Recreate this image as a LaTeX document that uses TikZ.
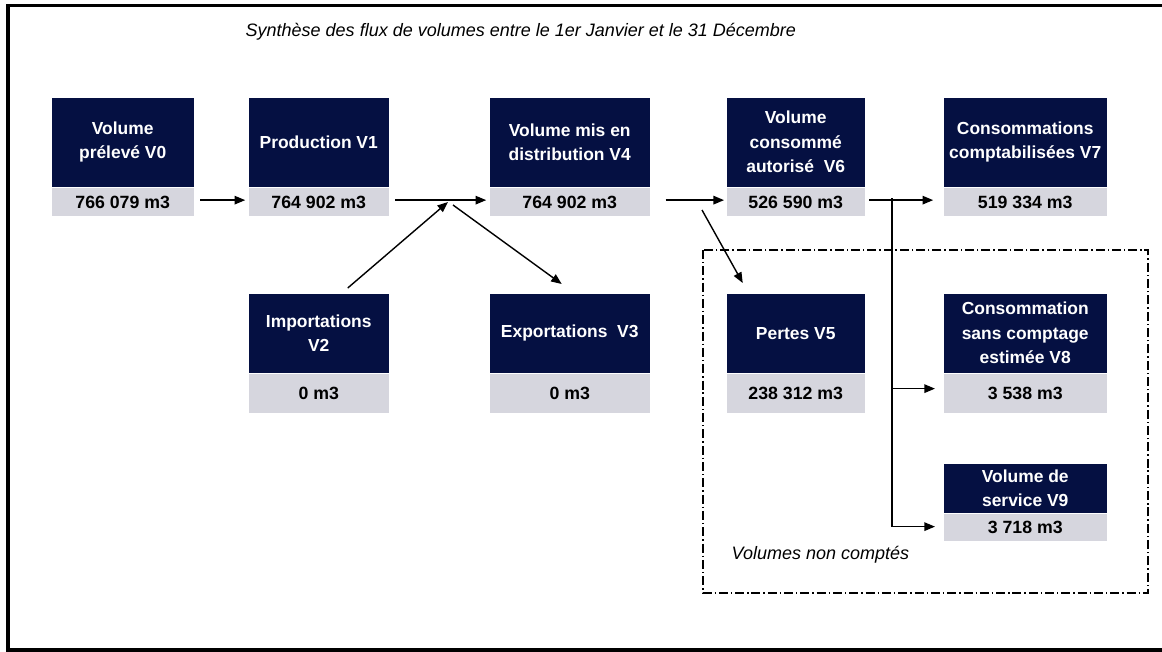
\documentclass[tikz,border=0pt]{standalone}
\usepackage{fontspec}
\setmainfont{Liberation Sans}
\usepackage{xcolor}
\usepackage{tikz}
\usetikzlibrary{arrows.meta,calc}
\definecolor{navy}{RGB}{5,16,66}
\definecolor{lightgrey}{RGB}{214,214,222}
\tikzset{
	lbl/.style={fill=navy, text=white, font=\bfseries\fontsize{12.4}{17.4}\selectfont, align=center, inner sep=0pt, anchor=north west},
	val/.style={fill=lightgrey, text=black, font=\bfseries\fontsize{12.6}{15}\selectfont, inner sep=0pt, anchor=north west},
	note/.style={font=\itshape\fontsize{12.8}{15}\selectfont, inner sep=0pt, anchor=west}
}

\begin{document}
\begin{tikzpicture}[x=0.025cm, y=-0.025cm, line width=1pt, >={Triangle[length=7.5pt,width=6pt]}]
	\useasboundingbox (0,0) rectangle (1162,651);
	\draw[line width=2.7pt] (8,5.5) rectangle (1185,650);
	\node[note] (titre) at (245,32) {Synthèse des flux de volumes entre le 1er Janvier et le 31 Décembre};

	\node[lbl, minimum width=3.55cm, minimum height=2.225cm] (v0) at (51,97) {Volume\\prélevé V0};
	\node[val, minimum width=3.55cm, minimum height=0.7cm] (v0val) at (v0.south west) {766 079 m3};
	\node[lbl, minimum width=3.5cm, minimum height=2.225cm] (v1) at (248,97) {Production V1};
	\node[val, minimum width=3.5cm, minimum height=0.7cm] (v1val) at (v1.south west) {764 902 m3};
	\node[lbl, minimum width=4cm, minimum height=2.225cm] (v4) at (489,97) {Volume mis en\\distribution V4};
	\node[val, minimum width=4cm, minimum height=0.7cm] (v4val) at (v4.south west) {764 902 m3};
	\node[lbl, minimum width=3.45cm, minimum height=2.225cm] (v6) at (726,97) {Volume\\consommé\\autorisé\ \ V6};
	\node[val, minimum width=3.45cm, minimum height=0.7cm] (v6val) at (v6.south west) {526 590 m3};
	\node[lbl, minimum width=4.075cm, minimum height=2.225cm] (v7) at (943,97) {Consommations\\comptabilisées V7};
	\node[val, minimum width=4.075cm, minimum height=0.7cm] (v7val) at (v7.south west) {519 334 m3};

	\node[lbl, minimum width=3.5cm, minimum height=1.975cm] (v2) at (248,293) {Importations\\V2};
	\node[val, minimum width=3.5cm, minimum height=0.975cm] (v2val) at (v2.south west) {0 m3};
	\node[lbl, minimum width=4cm, minimum height=1.975cm] (v3) at (489,293) {Exportations\ \ V3};
	\node[val, minimum width=4cm, minimum height=0.975cm] (v3val) at (v3.south west) {0 m3};
	\node[lbl, minimum width=3.45cm, minimum height=1.975cm] (v5) at (726,293) {Pertes V5};
	\node[val, minimum width=3.45cm, minimum height=0.975cm] (v5val) at (v5.south west) {238 312 m3};
	\node[lbl, minimum width=4.075cm, minimum height=1.975cm] (v8) at (943,293) {Consommation\\sans comptage\\estimée V8};
	\node[val, minimum width=4.075cm, minimum height=0.975cm] (v8val) at (v8.south west) {3 538 m3};
	\node[lbl, minimum width=4.075cm, minimum height=1.225cm] (v9) at (943,463) {Volume de\\service V9};
	\node[val, minimum width=4.075cm, minimum height=0.675cm] (v9val) at (v9.south west) {3 718 m3};

	\draw[line width=0.8pt, dash pattern=on 6.4pt off 2.1pt on 1pt off 2.1pt] (703,250) rectangle (1148,593);
	\node[note] (noncomptes) at (731,555) {Volumes non comptés};

	\coordinate (imp) at (448,202);
	\coordinate (exp) at (453,205);
	\coordinate (perte) at (702,210);
	\coordinate (split) at (892,198);

	\draw[->, shorten <=4.3pt, shorten >=2pt] ($(v0val.east)+(0,-2)$) -- ($(v1val.west)+(0,-2)$);
	\draw[->, shorten <=4.3pt, shorten >=2pt] ($(v1val.east)+(0,-2)$) -- ($(v4val.west)+(0,-2)$);
	\draw[->] ($(v2.north)+(29,-5)$) -- (imp);
	\draw[->] (exp) -- ($(v3.north)+(-8,-9)$);
	\draw[->, shorten <=10.7pt, shorten >=1.4pt] ($(v4val.east)+(0,-2)$) -- ($(v6val.west)+(0,-2)$);
	\draw[->] (perte) -- ($(v5.north)+(-53,-10)$);
	\draw[->, shorten <=2.8pt, shorten >=7pt] ($(v6val.east)+(0,-2)$) -- ($(v7val.west)+(0,-2)$);
	\draw[->, shorten >=5.7pt] (split) |- ($(v8val.west)+(0,-5)$);
	\draw[->, shorten >=5.7pt] (split) |- ($(v9val.west)+(0,-1)$);
\end{tikzpicture}
\end{document}
